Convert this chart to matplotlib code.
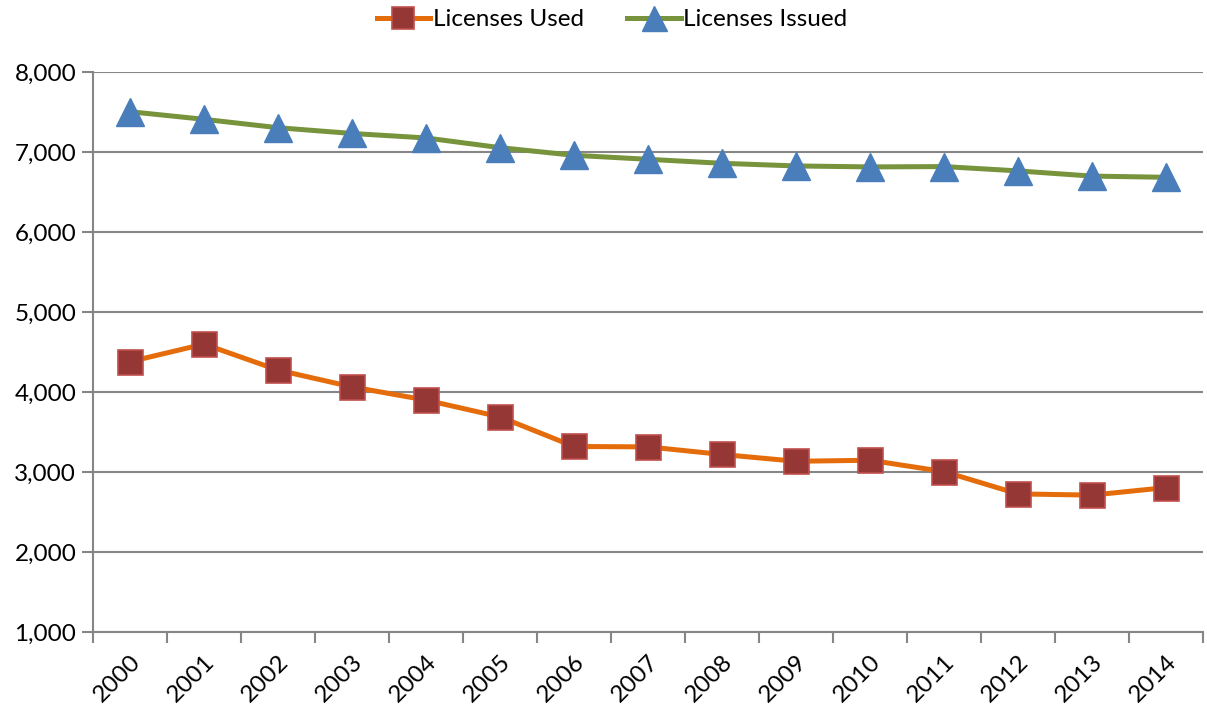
import matplotlib
matplotlib.use("Agg")
import matplotlib.pyplot as plt
import numpy as np
from matplotlib.ticker import FuncFormatter, FixedLocator

plt.rcParams['font.family'] = ['Lato', 'DejaVu Sans']

years = ['2000', '2001', '2002', '2003', '2004', '2005', '2006', '2007',
         '2008', '2009', '2010', '2011', '2012', '2013', '2014']
licenses_used = [4380, 4600, 4275, 4065, 3900, 3690, 3320, 3315, 3220,
                 3135, 3148, 3006, 2727, 2712, 2806]
licenses_issued = [7505, 7410, 7305, 7233, 7177, 7056, 6960, 6910, 6860,
                   6827, 6815, 6819, 6765, 6700, 6685]
y_ticks = [1000, 2000, 3000, 4000, 5000, 6000, 7000, 8000]

fig = plt.figure(figsize=(12.07, 7.07), dpi=100)
ax = fig.add_axes([0.077, 0.106, 0.9197, 0.792])
x = np.arange(len(years))

grid_c = '#868686'
fs = 17.5
ax.plot(x, licenses_used, color='#E46C0A', lw=3.6, marker='s', ms=18,
        mfc='#953735', mec='#C0504D', mew=1.2, label='Licenses Used', zorder=3)
ax.plot(x, licenses_issued, color='#77933C', lw=3.6, marker='^', ms=20,
        mfc='#4A7EBB', mec='#4A7EBB', mew=1, label='Licenses Issued', zorder=3)

ax.set_xlim(-0.5, len(years) - 0.5)
ax.set_ylim(1000, 8000)
ax.set_yticks(y_ticks)
ax.yaxis.set_major_formatter(FuncFormatter(lambda v, p: f'{int(v):,}'))
ax.grid(axis='y', color=grid_c, lw=1.5)
ax.set_axisbelow(True)

ax.set_xticks(x)
ax.set_xticklabels(years, rotation=45, ha='right', rotation_mode='anchor')
ax.xaxis.set_minor_locator(FixedLocator(np.arange(-0.5, len(years), 1.0)))
ax.tick_params(axis='x', which='major', length=0, pad=14, labelsize=fs, colors='black')
ax.tick_params(axis='x', which='minor', length=8, width=1.5, color=grid_c)
ax.tick_params(axis='y', which='major', length=8, width=1.5, color=grid_c, labelsize=fs, pad=4)

for s in ['top', 'right']:
    ax.spines[s].set_visible(False)
for s in ['left', 'bottom']:
    ax.spines[s].set_color(grid_c)
    ax.spines[s].set_linewidth(1.5)

leg = fig.legend(loc='upper center', bbox_to_anchor=(0.507, 1.018), ncol=2, frameon=False,
                 fontsize=fs, handlelength=2.2, handletextpad=0.1, columnspacing=1.8,
                 markerscale=0.9)

fig.savefig('out.png', dpi=100)
